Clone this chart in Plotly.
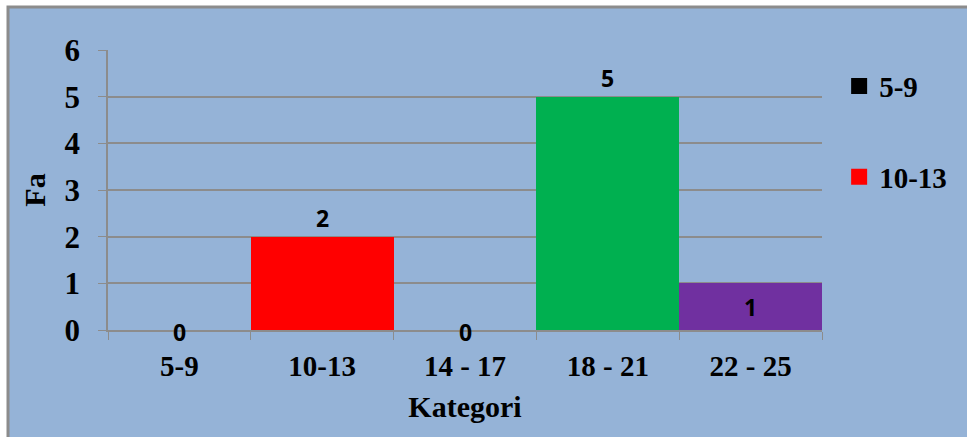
import plotly.graph_objects as go

categories = ["5-9", "10-13", "14 - 17", "18 - 21", "22 - 25"]
values = [0, 2, 0, 5, 1]
colors = ["#000000", "#ff0000", "#95b3d7", "#00b050", "#7030a0"]
legend_shown = [True, True, False, False, False]
text_pos = ["outside", "outside", "outside", "outside", "inside"]
y_ticks = [0, 1, 2, 3, 4, 5, 6]

serif = "Liberation Serif"
sans = "Open Sans"
label_font = dict(family=sans, size=23, color="black", weight="bold")

fig = go.Figure()
for i, cat in enumerate(categories):
    fig.add_trace(go.Bar(
        x=[cat], y=[values[i]], name=cat,
        marker=dict(color=colors[i], line=dict(width=0)),
        text=[str(values[i])] if values[i] != 0 else None,
        textposition=text_pos[i],
        insidetextanchor="middle",
        textfont=label_font,
        cliponaxis=False, showlegend=False,
    ))
    if legend_shown[i]:
        fig.add_trace(go.Scatter(
            x=[None], y=[None], mode="markers", name=cat,
            marker=dict(symbol="square", size=16, color=colors[i]),
            showlegend=True, legendgroup=cat,
        ))
    if values[i] == 0:
        # labels for zero-height bars sit on the baseline
        fig.add_annotation(x=cat, y=values[i], text=str(values[i]),
                           showarrow=False, yanchor="middle", yshift=-2,
                           font=label_font)

L, R, T, B = 108, 145, 50, 107
W, H = 967, 437
pw, ph = W - L - R, H - T - B

fig.add_shape(type="rect", xref="paper", yref="paper", layer="below",
              x0=(8 - L) / pw, x1=(W + 20 - L) / pw,
              y0=-(B + 20) / ph, y1=(H - B - 7) / ph,
              fillcolor="#95b3d7", line=dict(color="#8c8c8c", width=3))

fig.update_layout(
    width=W, height=H,
    margin=dict(l=L, r=R, t=T, b=B),
    paper_bgcolor="white",
    plot_bgcolor="rgba(0,0,0,0)",
    barmode="overlay", bargap=0,
    showlegend=True,
    legend=dict(x=1.024, y=0.962, xanchor="left", yanchor="top",
                bgcolor="rgba(0,0,0,0)", tracegroupgap=50,
                traceorder="grouped",
                font=dict(family=serif, size=29, color="black", weight="bold"),
                itemsizing="trace"),
    xaxis=dict(
        type="category", categoryorder="array", categoryarray=categories,
        showgrid=False, showline=True, linecolor="#8c8c8c", linewidth=1.5,
        ticks="outside", tickson="boundaries", ticklen=8, tickcolor="#8c8c8c",
        ticklabelstandoff=9,
        tickfont=dict(family=serif, size=29, color="black", weight="bold"),
        title=dict(text="Kategori", standoff=15,
                   font=dict(family=serif, size=30, color="black", weight="bold")),
    ),
    yaxis=dict(
        range=[0, 6], tickvals=y_ticks, showgrid=True, gridcolor="#8c8c8c",
        gridwidth=1.5, showline=True, linecolor="#8c8c8c", linewidth=1.5,
        ticks="outside", ticklen=8, tickcolor="#8c8c8c", zeroline=False,
        ticklabelstandoff=12,
        tickfont=dict(family=serif, size=31, color="black", weight="bold"),
        title=dict(text="Fa", standoff=10,
                   font=dict(family=serif, size=30, color="black", weight="bold")),
    ),
)

fig.write_html("out.html")
